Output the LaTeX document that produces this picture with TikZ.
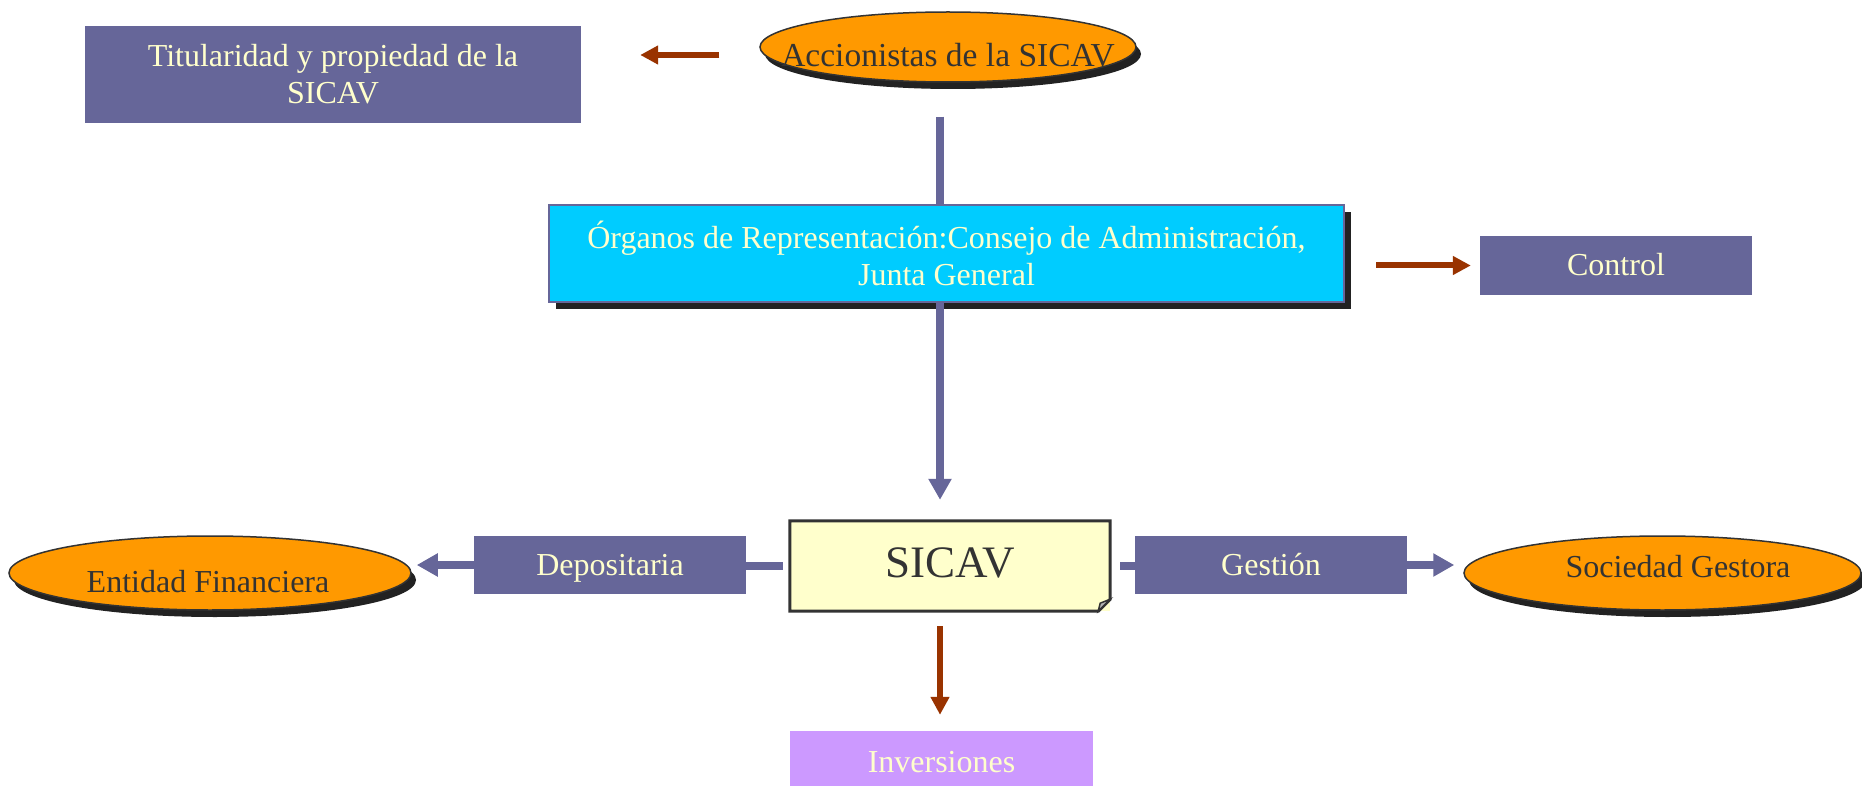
\documentclass[tikz,border=0pt]{standalone}
\usepackage{fontspec}
\setmainfont{Liberation Serif}
\usetikzlibrary{arrows.meta,shapes.geometric,shadows,calc}
\definecolor{boxpurple}{HTML}{666699}
\definecolor{orgcyan}{HTML}{00CCFF}
\definecolor{ovalorange}{HTML}{FF9900}
\definecolor{noteyellow}{HTML}{FFFFCC}
\definecolor{invlilac}{HTML}{CC99FF}
\definecolor{arrowred}{HTML}{993300}
\definecolor{txtyellow}{HTML}{FFFFCC}
\definecolor{txtdark}{HTML}{333333}
\definecolor{shadowcol}{HTML}{222222}
\definecolor{foldgray}{HTML}{B4B4B4}
\tikzset{
  lbl/.style={font=\fontsize{32}{37}\selectfont, text=txtyellow, inner sep=0pt},
  onel/.style={text height=21pt, text depth=0pt},
  pbox/.style={lbl, onel, rectangle, fill=boxpurple, draw=none},
  oval/.style={ellipse, fill=ovalorange, draw=txtdark, line width=1.5pt, inner sep=0pt,
    drop shadow={shadow xshift=5pt, shadow yshift=-7pt, opacity=1, fill=shadowcol}},
  ovaltext/.style={font=\fontsize{32}{37}\selectfont, text=txtdark, inner sep=0pt, onel},
  purpleline/.style={draw=boxpurple, line width=8pt},
  purplearrow/.style={purpleline, -{Triangle[width=22pt,length=21pt]}},
  redarrow/.style={draw=arrowred, line width=6pt, -{Triangle[width=18pt,length=18pt]}},
}
\begin{document}
\begin{tikzpicture}[x=1pt, y=-1pt]
\useasboundingbox[fill=white] (0,0) rectangle (1862,786);
\coordinate (spine) at (940,0);

% top row
\node[lbl, rectangle, fill=boxpurple, minimum width=496pt, minimum height=97pt, align=center]
  (tit) at (333,74.5) {Titularidad y propiedad de la\\SICAV};
\node[oval, minimum width=376pt, minimum height=70pt] (acc) at (948,47) {};
\node[ovaltext, font=\fontsize{33.5}{37}\selectfont, text height=22pt] (acct) at (948,56) {Accionistas de la SICAV};

% organs
\node[lbl, rectangle, fill=orgcyan, draw=boxpurple, line width=2pt,
  minimum width=795pt, minimum height=97pt, align=center,
  drop shadow={shadow xshift=7pt, shadow yshift=-7pt, opacity=1, fill=shadowcol}]
  (org) at (946.5,253.5) {Órganos de Representación:Consejo de Administración,\\Junta General};
\node[pbox, minimum width=272pt, minimum height=59pt] (ctl) at (1616,265.5) {Control};

% middle row
\node[rectangle, fill=noteyellow, draw=none, minimum width=320pt, minimum height=90pt,
  inner sep=0pt, font=\fontsize{45}{50}\selectfont, text=txtdark, text height=30pt, text depth=7pt]
  (sicav) at (950,566) {SICAV};
\draw[draw=txtdark, line width=3pt, line join=miter]
  (sicav.north west) -- (sicav.north east) -- ([yshift=12pt]sicav.south east)
  -- ([xshift=-12pt]sicav.south east) -- (sicav.south west) -- cycle;
\draw[draw=txtdark, fill=foldgray, line width=1.5pt]
  ([yshift=12pt]sicav.south east) -- ([xshift=-12pt]sicav.south east)
  -- ([xshift=-10pt,yshift=8pt]sicav.south east) -- cycle;

\node[pbox, minimum width=272pt, minimum height=58pt] (dep) at (610,565) {Depositaria};
\node[pbox, minimum width=272pt, minimum height=58pt] (ges) at (1271,565) {Gestión};

\node[oval, minimum width=402pt, minimum height=74pt] (ent) at (210,573) {};
\node[ovaltext] (entt) at (208,582) {Entidad Financiera};
\node[oval, minimum width=397pt, minimum height=74pt] (soc) at (1662.5,573) {};
\node[ovaltext] (soct) at (1678,567) {Sociedad Gestora};

% bottom
\node[pbox, fill=invlilac, minimum width=303pt, minimum height=62pt] (inv) at (941.5,762) {Inversiones};

% connectors
\draw[redarrow, shorten <=40pt, shorten >=59pt]
  ([yshift=-8pt]acc.west) -- ([yshift=-8pt]acc.west -| tit.east);
\draw[purpleline, shorten <=34pt] (acc.south -| spine) -- (org.north -| spine);
\draw[purplearrow, shorten >=21pt] (org.south -| spine) -- (sicav.north -| spine);
\draw[redarrow, shorten <=31pt, shorten >=9pt] (ctl.west -| org.east) -- (ctl.west);
\draw[purpleline, shorten <=7pt] (sicav.west) -- (sicav.west -| dep.east);
\draw[purplearrow, shorten >=5pt] (dep.west) -- (dep.west -| ent.east);
\draw[purpleline, shorten <=10pt] (sicav.east) -- (sicav.east -| ges.west);
\draw[purplearrow, shorten >=9pt] (ges.east) -- (ges.east -| soc.west);
\draw[redarrow, shorten <=15pt, shorten >=16pt] (sicav.south -| spine) -- (inv.north -| spine);
\end{tikzpicture}
\end{document}
